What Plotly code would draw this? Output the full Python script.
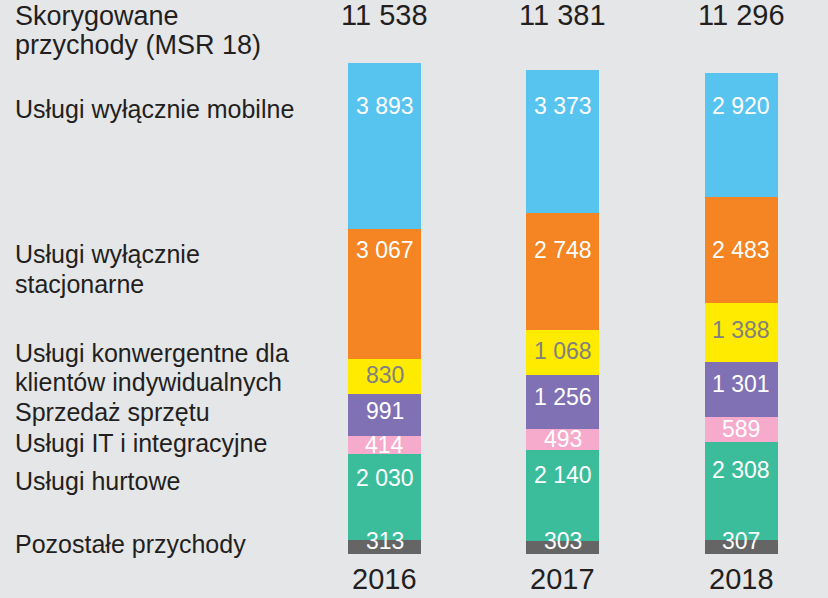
import plotly.graph_objects as go

# ---- data ----
years = ["2016", "2017", "2018"]
series_names = [
    "Pozostałe przychody",
    "Usługi hurtowe",
    "Usługi IT i integracyjne",
    "Sprzedaż sprzętu",
    "Usługi konwergentne dla klientów indywidualnych",
    "Usługi wyłącznie stacjonarne",
    "Usługi wyłącznie mobilne",
]
pozostale = [313, 303, 307]
hurtowe = [2030, 2140, 2308]
it_integracyjne = [414, 493, 589]
sprzet = [991, 1256, 1301]
konwergentne = [830, 1068, 1388]
stacjonarne = [3067, 2748, 2483]
mobilne = [3893, 3373, 2920]
totals = [11538, 11381, 11296]

series_values = [pozostale, hurtowe, it_integracyjne, sprzet, konwergentne, stacjonarne, mobilne]

# ---- styling ----
colors = ["#656565", "#3bbd9c", "#f6aacc", "#7f71b3", "#ffeb00", "#f58422", "#57c3ef"]
value_text_colors = ["white", "white", "white", "white", "#808080", "white", "white"]
# label placement: ("frac", f) -> inside segment at fraction f; ("row", px) -> fixed pixel row
label_rules = [("frac", 0.95), ("frac", 0.72), ("frac", 0.53), ("frac", 0.6),
               ("frac", 0.535), ("row", 250), ("row", 106)]

FONT = "Liberation Sans, Arial, Helvetica, sans-serif"
TEXT_DARK = "#231f20"
BG = "#e5e6e8"

W, H = 828, 598
BASE_PX = 553.5          # pixel row of value 0
K = 490.5 / 11538        # pixels per unit
X0_PX = 384.5            # pixel of first category centre
DX_PX = 178.25           # pixels per category step
LEFT_PX = 13             # left text edge


def py(p):
    """pixel row -> y data value"""
    return (BASE_PX - p) / K


def fmt(v):
    return f"{v:,}".replace(",", " ")


x_pos = list(range(len(years)))

fig = go.Figure()
for name, vals, col in zip(series_names, series_values, colors):
    fig.add_trace(go.Bar(
        x=x_pos, y=vals, name=name, marker=dict(color=col, line=dict(width=0)),
        width=73 / DX_PX, hoverinfo="skip", showlegend=False,
    ))

annotations = []
# value labels inside bars
base = [0] * len(years)
for vals, tcol, rule in zip(series_values, value_text_colors, label_rules):
    for i, v in enumerate(vals):
        if rule[0] == "frac":
            yv = base[i] + rule[1] * v
        else:
            yv = py(rule[1])
        annotations.append(dict(
            x=x_pos[i], y=yv, xref="x", yref="y", text=fmt(v), showarrow=False,
            font=dict(family=FONT, size=23, color=tcol), xanchor="center", yanchor="middle",
        ))
        base[i] += v

# totals on top
for i, t in enumerate(totals):
    annotations.append(dict(
        x=x_pos[i], y=py(15), xref="x", yref="y", text=fmt(t), showarrow=False,
        font=dict(family=FONT, size=29, color=TEXT_DARK), xanchor="center", yanchor="middle",
    ))

# year labels
for i, yr in enumerate(years):
    annotations.append(dict(
        x=x_pos[i], y=py(578.5), xref="x", yref="y", text=yr, showarrow=False,
        font=dict(family=FONT, size=29, color=TEXT_DARK), xanchor="center", yanchor="middle",
    ))

# left-hand category labels (one annotation per line)
left_lines = [
    ("Skorygowane", 16, 27),
    ("przychody (MSR 18)", 45, 27),
    ("Usługi wyłącznie mobilne", 109, 25),
    ("Usługi wyłącznie", 254, 25),
    ("stacjonarne", 284, 25),
    ("Usługi konwergentne dla", 352.5, 25),
    ("klientów indywidualnych", 381.5, 25),
    ("Sprzedaż sprzętu", 412, 25),
    ("Usługi IT i integracyjne", 443, 25),
    ("Usługi hurtowe", 480.5, 25),
    ("Pozostałe przychody", 544, 25),
]
for txt, p, fs in left_lines:
    annotations.append(dict(
        x=LEFT_PX / W, y=py(p), xref="paper", yref="y", text=txt, showarrow=False,
        font=dict(family=FONT, size=fs, color=TEXT_DARK), xanchor="left", yanchor="middle",
    ))

x_min = -X0_PX / DX_PX
x_max = x_min + W / DX_PX

fig.update_layout(
    width=W, height=H,
    margin=dict(l=0, r=0, t=0, b=0, pad=0),
    paper_bgcolor=BG, plot_bgcolor=BG,
    barmode="stack", bargap=0,
    xaxis=dict(range=[x_min, x_max], visible=False, fixedrange=True),
    yaxis=dict(range=[py(H), py(0)], visible=False, fixedrange=True),
    annotations=annotations,
    showlegend=False,
)

fig.write_html(
    "out.html",
    config={"displayModeBar": False},
    post_script="document.body.style.margin='0';document.body.style.padding='0';"
                "document.body.style.overflow='hidden';",
)
